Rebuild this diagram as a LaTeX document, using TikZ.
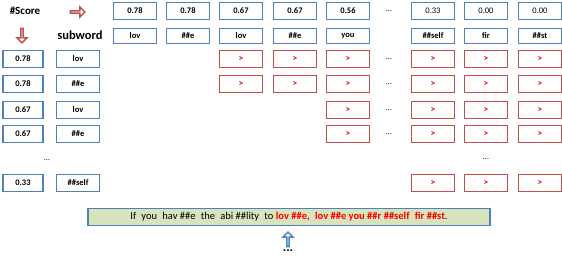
\documentclass[tikz,border=0pt]{standalone}
\usepackage{fontspec}
\setmainfont{Carlito}
\usepackage{tikz}
\usetikzlibrary{shapes.arrows}
\definecolor{boxblue}{HTML}{4F81BD}
\definecolor{boxred}{HTML}{C0504D}
\definecolor{sentgreen}{HTML}{D7E4BD}
\definecolor{hotred}{HTML}{FF0000}

\begin{document}
\begin{tikzpicture}[
  x=1pt, y=-1pt,
  bluebox/.style={rectangle, draw=boxblue, line width=1.6pt, fill=white,
                  minimum width=43pt, minimum height=17pt, inner sep=0pt,
                  font=\fontsize{8.5}{9}\selectfont\bfseries},
  leftbox/.style={bluebox, minimum width=40pt},
  redbox/.style={rectangle, draw=boxred, line width=1.6pt, fill=white,
                 minimum width=43pt, minimum height=17pt, inner sep=0pt,
                 font=\fontsize{9.5}{10}\selectfont\bfseries, text=hotred},
  dotsnode/.style={font=\fontsize{8}{9}\selectfont, inner sep=0pt},
  headlabel/.style={font=\fontsize{11}{12}\selectfont\bfseries, inner sep=0pt},
  openarrow/.style={single arrow, draw=#1, line width=1.4pt, fill=white,
                    inner sep=0pt, minimum width=10pt, minimum height=14.5pt,
                    single arrow head extend=2.4pt, text width=0pt}
]
\useasboundingbox (0,0) rectangle (562,275);

% === Headings and hollow arrows ===
\node[headlabel] (scorelbl) at (25,11) {\#Score};
\node[headlabel, font=\fontsize{12.5}{13}\selectfont\bfseries] (subwlbl) at (80,35) {subword};
\node[openarrow=boxred] (rightarr) at (77,12) {};
\node[openarrow=boxred, shape border rotate=270] (downarr) at (22,35) {};

% === Top score row and subword row ===
\foreach \i/\x/\s/\w in {1/135/0.78/lov, 2/188/0.78/\#\#e, 3/241/0.67/lov,
                         4/295/0.67/\#\#e, 5/348/0.56/you} {
  \node[bluebox] (topscore\i) at (\x,11) {\s};
  \node[bluebox, minimum height=15pt] (topword\i) at (\x,36) {\w};
}
\foreach \i/\x/\s/\w in {7/433/0.33/\#\#self, 8/486/0.00/fir, 9/540/0.00/\#\#st} {
  \node[bluebox, font=\fontsize{8.5}{9}\selectfont] (topscore\i) at (\x,11) {\s};
  \node[bluebox, minimum height=15pt] (topword\i) at (\x,36) {\w};
}
\node[dotsnode] (topdots) at (389,11) {...};

% === Left score column and subword column ===
\foreach \i/\y/\s/\w in {1/59/0.78/lov, 2/84/0.78/\#\#e, 3/110/0.67/lov,
                         4/134/0.67/\#\#e, 5/183/0.33/\#\#self} {
  \node[leftbox] (leftscore\i) at (23,\y) {\s};
  \node[leftbox, minimum width=43pt] (leftword\i) at (78,\y) {\w};
}
\node[dotsnode] (leftdots) at (47,160) {...};

% === Comparison grid ===
\foreach \r/\y in {1/59, 2/84} {
  \foreach \c/\x in {3/241, 4/295, 5/348, 7/433, 8/486, 9/540}
    \node[redbox] (cmp\r\c) at (\x,\y) {>};
  \node[dotsnode] (rowdots\r) at (389,\y) {...};
}
\foreach \r/\y in {3/110, 4/134} {
  \foreach \c/\x in {5/348, 7/433, 8/486, 9/540}
    \node[redbox] (cmp\r\c) at (\x,\y) {>};
  \node[dotsnode] (rowdots\r) at (389,\y) {...};
}
\node[dotsnode] (griddots) at (486,159) {...};
\foreach \c/\x in {7/433, 8/486, 9/540}
  \node[redbox] (cmp5\c) at (\x,183) {>};

% === Sentence ===
\node[rectangle, draw=boxblue, line width=1.6pt, fill=sentgreen,
      minimum width=402pt, minimum height=17pt, inner sep=0pt,
      font=\fontsize{10.5}{11}\selectfont] (sentence) at (289,217)
  {If\enspace you\enspace hav \#\#e\enspace the\enspace abi \#\#lity\enspace to
   \textcolor{hotred}{\bfseries lov \#\#e,\enspace lov \#\#e you \#\#r \#\#self\enspace fir \#\#st}.};
\node[openarrow=boxblue, shape border rotate=90] (uparr) at (288,240) {};
\node[font=\fontsize{13}{14}\selectfont\bfseries, inner sep=0pt] (botdots) at (288,251) {...};

\end{tikzpicture}
\end{document}
